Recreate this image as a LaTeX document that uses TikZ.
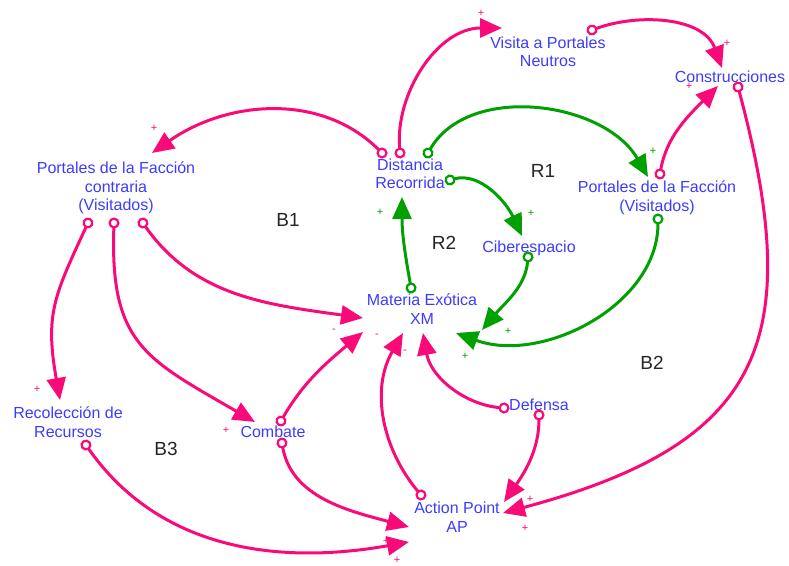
\documentclass[tikz,border=0pt]{standalone}
\usepackage{fontspec}
\setmainfont{Liberation Sans}
\usetikzlibrary{arrows.meta}
\definecolor{cldpink}{RGB}{250,10,120}
\definecolor{cldgreen}{RGB}{0,160,0}
\definecolor{cldblue}{RGB}{60,60,255}

\begin{document}
\begin{tikzpicture}[x=1pt,y=1pt,
  var/.style={text=cldblue, font=\fontsize{16}{18.5}\selectfont, align=center, inner sep=1pt},
  looplbl/.style={text=black!85, font=\fontsize{19}{19}\selectfont},
  sgn/.style={font=\fontsize{11}{11}\selectfont, inner sep=0pt},
  link/.style={line width=3pt, {Circle[open,length=11pt,line width=2.2pt]}-{Triangle[length=22pt,width=19pt]}},
  plink/.style={link, draw=cldpink},
  glink/.style={link, draw=cldgreen}]
\useasboundingbox (0,0) rectangle (789,565);

% variables
\node[var] (visita)  at (548,513) {Visita a Portales\\Neutros};
\node[var] (constr)  at (730,488) {Construcciones};
\node[var] (dist)    at (410,391) {Distancia\\Recorrida};
\node[var] (portv)   at (657,367) {Portales de la Facción\\(Visitados)};
\node[var] (portc)   at (116,377) {Portales de la Facción\\contraria\\(Visitados)};
\node[var] (ciber)   at (529,317) {Ciberespacio};
\node[var] (xm)      at (422,256) {Materia Exótica\\XM};
\node[var] (defensa) at (539,160) {Defensa};
\node[var] (ap)      at (457,48)  {Action Point\\AP};
\node[var] (combate) at (273,133) {Combate};
\node[var] (recol)   at (68,143)  {Recolección de\\Recursos};

% loops
\node[looplbl] (b1) at (288,345) {B1};
\node[looplbl] (r1) at (543,394) {R1};
\node[looplbl] (r2) at (444,322) {R2};
\node[looplbl] (b2) at (652,202) {B2};
\node[looplbl] (b3) at (166,116) {B3};

% pink links
\draw[plink] ([shift={(-9.5,15.5)}]dist.center) to[out=95,in=180] ([shift={(-46,24)}]visita.center);
\draw[plink] ([shift={(38.8,20.1)}]visita.center) to[out=20,in=110] ([shift={(-8,9)}]constr.center);
\draw[plink] ([shift={(2,18.6)}]portv.center) to[out=80,in=225] ([shift={(-12,-9)}]constr.center);
\draw[plink] ([shift={(6.6,-4.7)}]constr.center) to[out=-75,in=15,looseness=1.4] ([shift={(46,4)}]ap.center);
\draw[plink] ([shift={(-24.1,17.1)}]dist.center) to[out=135,in=35] ([shift={(36,35)}]portc.center);
\draw[plink] ([shift={(23.8,-30.5)}]portc.center) to[out=-55,in=172] ([shift={(-59,-9)}]xm.center);
\draw[plink] ([shift={(-1.8,-29.5)}]portc.center) to[out=-92,in=150,looseness=1.3] ([shift={(-18,10)}]combate.center);
\draw[plink] ([shift={(-25.7,-30)}]portc.center) to[out=-115,in=100,looseness=1.2] ([shift={(-8,22)}]recol.center);
\draw[plink] ([shift={(5.2,6.2)}]combate.center) to[out=60,in=-140] ([shift={(-59,-23)}]xm.center);
\draw[plink] ([shift={(8,-5.6)}]combate.center) to[out=-80,in=165] ([shift={(-48,-10)}]ap.center);
\draw[plink] ([shift={(14.8,-18.5)}]recol.center) to[out=-55,in=190] ([shift={(-48,-25)}]ap.center);
\draw[plink] ([shift={(-32.5,17.8)}]ap.center) to[out=130,in=-120] ([shift={(-19,-24)}]xm.center);
\draw[plink] ([shift={(-29.5,-3.5)}]defensa.center) to[out=175,in=-80] ([shift={(1,-24)}]xm.center);
\draw[plink] ([shift={(0,-4.5)}]defensa.center) to[out=-90,in=55] ([shift={(47,15)}]ap.center);

% green links
\draw[glink] ([shift={(15.2,16.2)}]dist.center) to[out=60,in=120] ([shift={(-9,21)}]portv.center);
\draw[glink] ([shift={(34.7,-7.4)}]dist.center) to[out=15,in=115] ([shift={(-7,12)}]ciber.center);
\draw[glink] ([shift={(-10,15.6)}]xm.center) to[out=100,in=-90] ([shift={(-8,-23)}]dist.center);
\draw[glink] ([shift={(-0.5,-3.5)}]ciber.center) to[out=-95,in=50] ([shift={(60,-21)}]xm.center);
\draw[glink] ([shift={(1,-15.5)}]portv.center) to[out=-90,in=-20] ([shift={(34,-24)}]xm.center);

% signs
\node[sgn,text=cldpink] (sa) at (481,552) {+};
\node[sgn,text=cldpink] (sb) at (727,522) {+};
\node[sgn,text=cldpink] (sc) at (689,479) {+};
\node[sgn,text=cldpink] (sd) at (525,37)  {+};
\node[sgn,text=cldpink] (se) at (154,437) {+};
\node[sgn,text=cldpink] (sk) at (334,234) {-};
\node[sgn,text=cldpink] (sl) at (226,135) {+};
\node[sgn,text=cldpink] (sm) at (37,176)  {+};
\node[sgn,text=cldpink] (sn) at (377,229) {-};
\node[sgn,text=cldpink] (so) at (386,24)  {+};
\node[sgn,text=cldpink] (sp) at (397,5)   {+};
\node[sgn,text=cldpink] (sq) at (405,213) {-};
\node[sgn,text=cldpink] (ss) at (530,66)  {+};
\node[sgn,text=cldgreen] (sf) at (653,414) {+};
\node[sgn,text=cldgreen] (sg) at (531,352) {+};
\node[sgn,text=cldgreen] (sh) at (380,353) {+};
\node[sgn,text=cldgreen] (si) at (508,234) {+};
\node[sgn,text=cldgreen] (sj) at (465,209) {+};
\end{tikzpicture}
\end{document}
